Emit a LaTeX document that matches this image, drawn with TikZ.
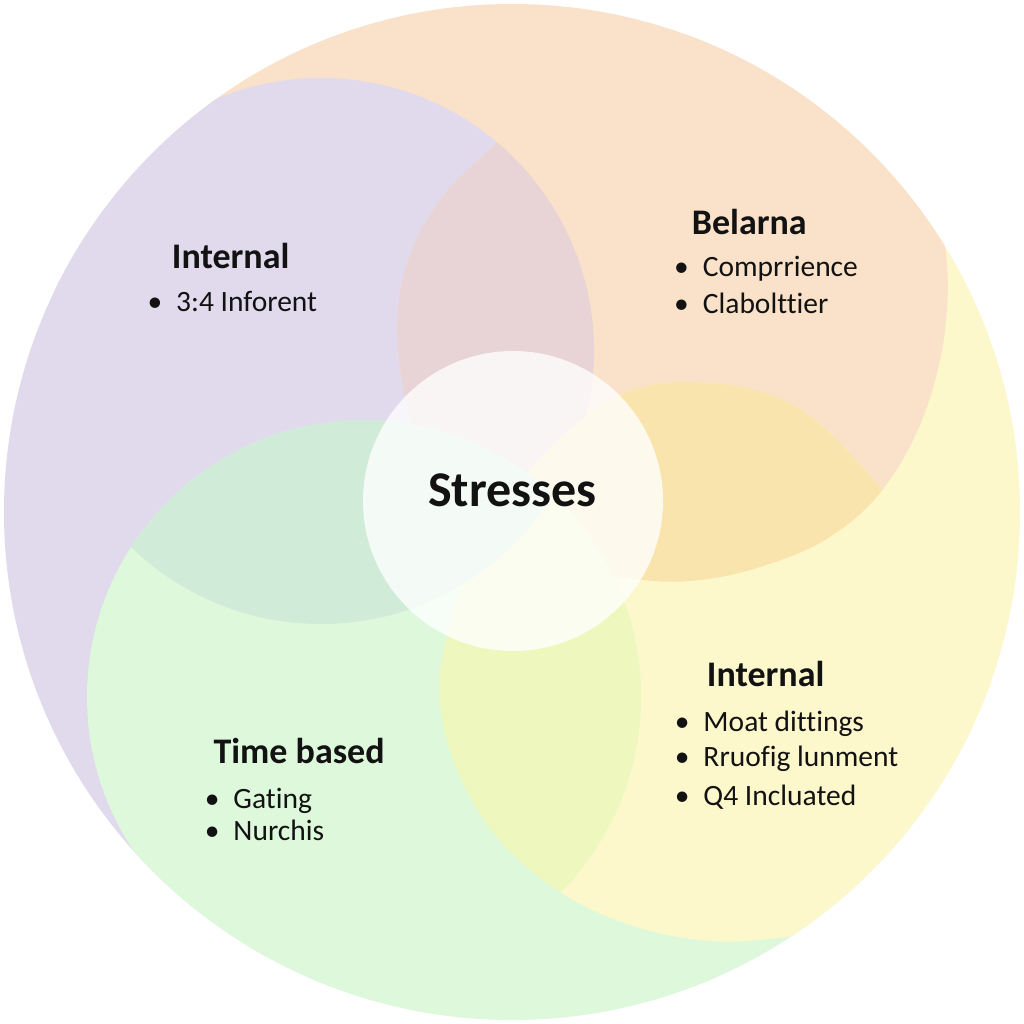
\documentclass[tikz,border=0pt]{standalone}
\usepackage{fontspec}
\setmainfont[Ligatures={NoCommon}]{Carlito}
\definecolor{cpur}{HTML}{E0DAEC}
\definecolor{cora}{HTML}{F9E2C9}
\definecolor{cyel}{HTML}{FDF8CC}
\definecolor{cgrn}{HTML}{DEF8DC}
\definecolor{cpink}{HTML}{E8D4D6}
\definecolor{cdor}{HTML}{F8E4AC}
\definecolor{clime}{HTML}{EEF8BE}
\definecolor{cdgr}{HTML}{D0ECD8}
\definecolor{ctxt}{HTML}{121212}
\tikzset{
  head/.style={anchor=base west, inner sep=0pt, text=ctxt, font=\fontsize{36}{43}\selectfont\bfseries},
  itm/.style={anchor=base west, inner sep=0pt, text=ctxt, font=\fontsize{29.5}{35}\selectfont},
  hub/.style={anchor=base, inner sep=0pt, text=ctxt, font=\fontsize{50}{60}\selectfont\bfseries},
}
\newcommand{\bul}{\llap{\textbullet\hspace{14pt}}}
\begin{document}
\begin{tikzpicture}[x=1pt,y=-1pt]
\useasboundingbox (0,0) rectangle (1024,1024);
\fill[white] (0,0) rectangle (1024,1024);
\begin{scope}
  \clip (512,512) circle[radius=508pt];
  % tails
  \fill[cora, shift={(512,512)}] (0,0) -- (220.1:900) -- (245:900) -- (270:900) -- (290:900) -- (309.8:900) -- cycle;
  \fill[cyel, shift={(512,512)}] (0,0) -- (309.8:900) -- (330:900) -- (355:900) -- (15:900) -- (36:900) -- cycle;
  \fill[cgrn, shift={(512,512)}] (0,0) -- (36:900) -- (60:900) -- (82:900) -- (105:900) -- (128.2:900) -- cycle;
  \fill[cpur, shift={(512,512)}] (0,0) -- (128.2:900) -- (150:900) -- (175:900) -- (198:900) -- (220.1:900) -- cycle;
  % main blobs
  \fill[cpur] (321,351) circle[radius=273pt];
  \fill[cora] plot[smooth cycle, tension=0.6] coordinates {(497,142) (565,72) (680,35) (810,58) (905,135) (943,235) (945,330) (922,420) (880,493) (825,540) (760,567) (700,580) (643,580) (560,565) (475,510) (418,435) (398,350) (405,270) (440,200)};
  \fill[cyel] plot[smooth cycle, tension=0.6] coordinates {(693,382) (793,405) (880,487) (950,585) (1000,710) (990,840) (900,918) (795,936) (712,941) (630,925) (557,890) (495,835) (455,765) (440,700) (446,640) (472,560) (530,470) (610,400)};
  \fill[cgrn] (364,697) circle[radius=277pt];
  % overlaps
  \begin{scope}
    \clip (321,351) circle[radius=273pt];
    \fill[cpink] plot[smooth cycle, tension=0.6] coordinates {(497,142) (565,72) (680,35) (810,58) (905,135) (943,235) (945,330) (922,420) (880,493) (825,540) (760,567) (700,580) (643,580) (560,565) (475,510) (418,435) (398,350) (405,270) (440,200)};
  \end{scope}
  \begin{scope}
    \clip plot[smooth cycle, tension=0.6] coordinates {(497,142) (565,72) (680,35) (810,58) (905,135) (943,235) (945,330) (922,420) (880,493) (825,540) (760,567) (700,580) (643,580) (560,565) (475,510) (418,435) (398,350) (405,270) (440,200)};
    \fill[cdor] plot[smooth cycle, tension=0.6] coordinates {(693,382) (793,405) (880,487) (950,585) (1000,710) (990,840) (900,918) (795,936) (712,941) (630,925) (557,890) (495,835) (455,765) (440,700) (446,640) (472,560) (530,470) (610,400)};
  \end{scope}
  \begin{scope}
    \clip (364,697) circle[radius=277pt];
    \fill[clime] plot[smooth cycle, tension=0.6] coordinates {(693,382) (793,405) (880,487) (950,585) (1000,710) (990,840) (900,918) (795,936) (712,941) (630,925) (557,890) (495,835) (455,765) (440,700) (446,640) (472,560) (530,470) (610,400)};
  \end{scope}
  \begin{scope}
    \clip (364,697) circle[radius=277pt];
    \fill[cdgr] (321,351) circle[radius=273pt];
  \end{scope}
  % centre disc
  \fill[white, opacity=0.78] (513,501) circle[radius=150pt];
\end{scope}
% texts
\node[hub] (hub) at (512.5,506.5) {Stresses};
\node[head] (h1) at (171.7,268.3) {Internal};
\node[itm] (h1a) at (176,311.7) {\bul 3:4 Inforent};
\node[head] (h2) at (691.7,235) {Belarna};
\node[itm] (h2a) at (702.7,276) {\bul Comprrience};
\node[itm] (h2b) at (702.7,313.3) {\bul Clabolttier};
\node[head] (h3) at (706.7,686) {Internal};
\node[itm] (h3a) at (703.3,731.7) {\bul Moat dittings};
\node[itm] (h3b) at (703.3,766.7) {\bul Rruofig lunment};
\node[itm] (h3c) at (703.3,805) {\bul Q4 Incluated};
\node[head] (h4) at (213.3,763.3) {Time based};
\node[itm] (h4a) at (233.3,808.3) {\bul Gating};
\node[itm] (h4b) at (233.3,840) {\bul Nurchis};
\end{tikzpicture}
\end{document}
